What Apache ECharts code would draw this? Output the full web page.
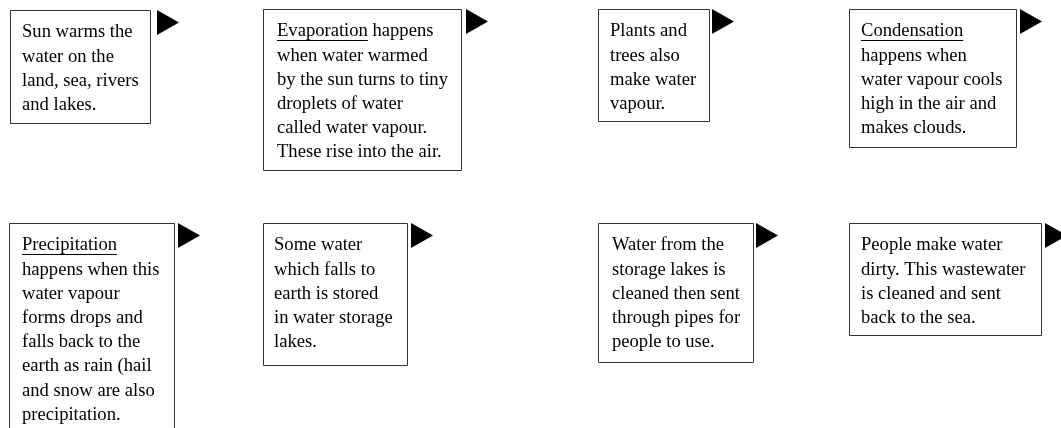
<!DOCTYPE html>
<html>
<head>
<meta charset="utf-8">
<script src="https://cdn.jsdelivr.net/npm/echarts@6/dist/echarts.min.js"></script>
<style>
  html, body { margin: 0; padding: 0; background: #fff; }
  #main { width: 1061px; height: 428px; }
</style>
</head>
<body>
<div id="main"></div>
<script>
// text of each step, line by line as in the picture
const stepLines = [
  ['Sun warms the', 'water on the', 'land, sea, rivers', 'and lakes.'],
  ['Evaporation happens', 'when water warmed', 'by the sun turns to tiny', 'droplets of water', 'called water vapour.', 'These rise into the air.'],
  ['Plants and', 'trees also', 'make water', 'vapour.'],
  ['Condensation', 'happens when', 'water vapour cools', 'high in the air and', 'makes clouds.'],
  ['Precipitation', 'happens when this', 'water vapour', 'forms drops and', 'falls back to the', 'earth as rain (hail', 'and snow are also', 'precipitation.'],
  ['Some water', 'which falls to', 'earth is stored', 'in water storage', 'lakes.'],
  ['Water from the', 'storage lakes is', 'cleaned then sent', 'through pipes for', 'people to use.'],
  ['People make water', 'dirty. This wastewater', 'is cleaned and sent', 'back to the sea.']
];
// underlined keyword at the start of the first line ('' = none)
const keyWords = ['', 'Evaporation', '', 'Condensation', 'Precipitation', '', '', ''];

// box layout (in the 1061 x 428 frame)
const boxLeft   = [10, 263, 598, 849, 9, 263, 598, 849];
const boxTop    = [10, 9, 9, 9, 223, 223, 223, 223];
const boxRight  = [150, 461, 709, 1016, 174, 407, 753, 1041];
const boxBottom = [123, 170, 121, 147, 440, 365, 362, 335];
const textPad   = [12, 14, 12, 12, 13, 11, 14, 12];
const arrowLeft = [157, 466, 712, 1020, 178, 411, 756, 1045];

const FONT = '18.6px "Liberation Serif", "Times New Roman", serif';
const measure = document.createElement('canvas').getContext('2d');
measure.font = FONT;

let myChart = echarts.init(document.getElementById('main'));

function renderItem (params, api) {
  let i = params.dataIndex;
  let p0 = api.coord([boxLeft[i], boxTop[i]]);
  let p1 = api.coord([boxRight[i], boxBottom[i]]);
  let a0 = api.coord([arrowLeft[i], boxTop[i]]);
  let a1 = api.coord([arrowLeft[i] + 22, boxTop[i] + 25]);
  let tx = p0[0] + textPad[i];
  let ty = p0[1] + 10.5;
  let children = [
    {
      type: 'rect',
      shape: { x: Math.round(p0[0]) + 0.5, y: Math.round(p0[1]) + 0.5, width: Math.round(p1[0] - p0[0]), height: Math.round(p1[1] - p0[1]) },
      style: { fill: '#fff', stroke: '#333', lineWidth: 1 }
    },
    {
      type: 'text',
      style: {
        text: stepLines[i].join('\n'),
        x: tx,
        y: ty,
        font: FONT,
        fill: '#000',
        lineHeight: 24.2,
        align: 'left',
        verticalAlign: 'top'
      }
    },
    {
      type: 'polygon',
      shape: { points: [[a0[0], a0[1]], [a0[0], a1[1]], [a1[0], (a0[1] + a1[1]) / 2]] },
      style: { fill: '#000' }
    }
  ];
  if (keyWords[i]) {
    let w = measure.measureText(keyWords[i]).width;
    let uy = Math.round(ty + 20.5) + 0.5;
    children.push({
      type: 'line',
      shape: { x1: tx, y1: uy, x2: tx + w, y2: uy },
      style: { stroke: '#000', lineWidth: 1 }
    });
  }
  return { type: 'group', children: children };
}

let option = {
  animation: false,
  grid: { left: 0, right: 0, top: 0, bottom: 0 },
  xAxis: { type: 'value', min: 0, max: 1061, show: false },
  yAxis: { type: 'value', min: 0, max: 428, inverse: true, show: false },
  series: [
    {
      type: 'custom',
      renderItem: renderItem,
      clip: false,
      data: stepLines.map((l, i) => [boxLeft[i], boxTop[i]])
    }
  ]
};
myChart.setOption(option);
</script>
</body>
</html>
